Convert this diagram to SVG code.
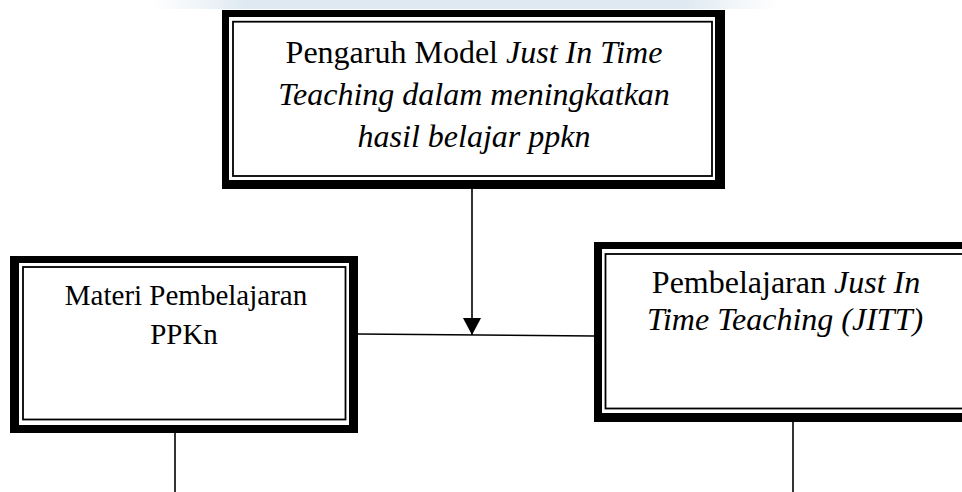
<svg xmlns="http://www.w3.org/2000/svg" width="962" height="492" viewBox="0 0 962 492">
<defs>
<linearGradient id="wm" x1="0" y1="0" x2="1" y2="0">
<stop offset="0" stop-color="#dfeaf0" stop-opacity="0"/>
<stop offset="0.15" stop-color="#d6e4ee" stop-opacity="0.8"/>
<stop offset="0.85" stop-color="#d6e4ee" stop-opacity="0.8"/>
<stop offset="1" stop-color="#dfeaf0" stop-opacity="0"/>
</linearGradient>
<marker id="arr" viewBox="0 0 17 18" refX="17" refY="9" markerWidth="17" markerHeight="18" markerUnits="userSpaceOnUse" orient="auto">
<path d="M0,0 L17,9 L0,18 Z" fill="#000"/>
</marker>
</defs>
<style>
.outer{fill:#000}
.gap{fill:#fff}
.thin{fill:none;stroke:#000;stroke-width:1.8}
.t{font-family:"Liberation Serif","Times New Roman",serif;fill:#000;text-anchor:middle}
.i{font-style:italic}
.ln{stroke:#000;stroke-width:1.6;fill:none}
</style>
<rect width="962" height="492" fill="#fff"/>
<rect x="150" y="0" width="630" height="9" fill="url(#wm)"/>
<g id="node-top">
<rect class="outer" x="222" y="10" width="503" height="179"/>
<rect class="gap" x="229" y="17" width="486" height="163"/>
<rect class="thin" x="233" y="21.7" width="479" height="154.3"/>
<text class="t" x="474" y="63" font-size="32">Pengaruh Model <tspan class="i">Just In Time</tspan></text>
<text class="t i" x="474" y="105" font-size="32">Teaching dalam meningkatkan</text>
<text class="t i" x="474" y="147" font-size="32">hasil belajar ppkn</text>
</g>
<g id="node-left">
<rect class="outer" x="10" y="256" width="348" height="177"/>
<rect class="gap" x="19" y="263" width="330" height="162"/>
<rect class="thin" x="23" y="267" width="322.5" height="152.5"/>
<text class="t" x="186" y="305" font-size="29">Materi Pembelajaran</text>
<text class="t" x="184" y="344" font-size="29">PPKn</text>
</g>
<g id="node-right">
<rect class="outer" x="594" y="242" width="380" height="180"/>
<rect class="gap" x="602" y="249" width="370" height="164"/>
<rect class="thin" x="605.5" y="254" width="370" height="154.5"/>
<text class="t" x="786" y="293" font-size="32">Pembelajaran <tspan class="i">Just In</tspan></text>
<text class="t i" x="785" y="330" font-size="32">Time Teaching (JITT)</text>
</g>
<g id="connectors">
<line class="ln" x1="472" y1="189" x2="472" y2="335" marker-end="url(#arr)"/>
<line class="ln" x1="358" y1="334" x2="594" y2="336"/>
<line class="ln" x1="175" y1="433" x2="175" y2="492"/>
<line class="ln" x1="793" y1="422" x2="793" y2="492"/>
</g>
</svg>
